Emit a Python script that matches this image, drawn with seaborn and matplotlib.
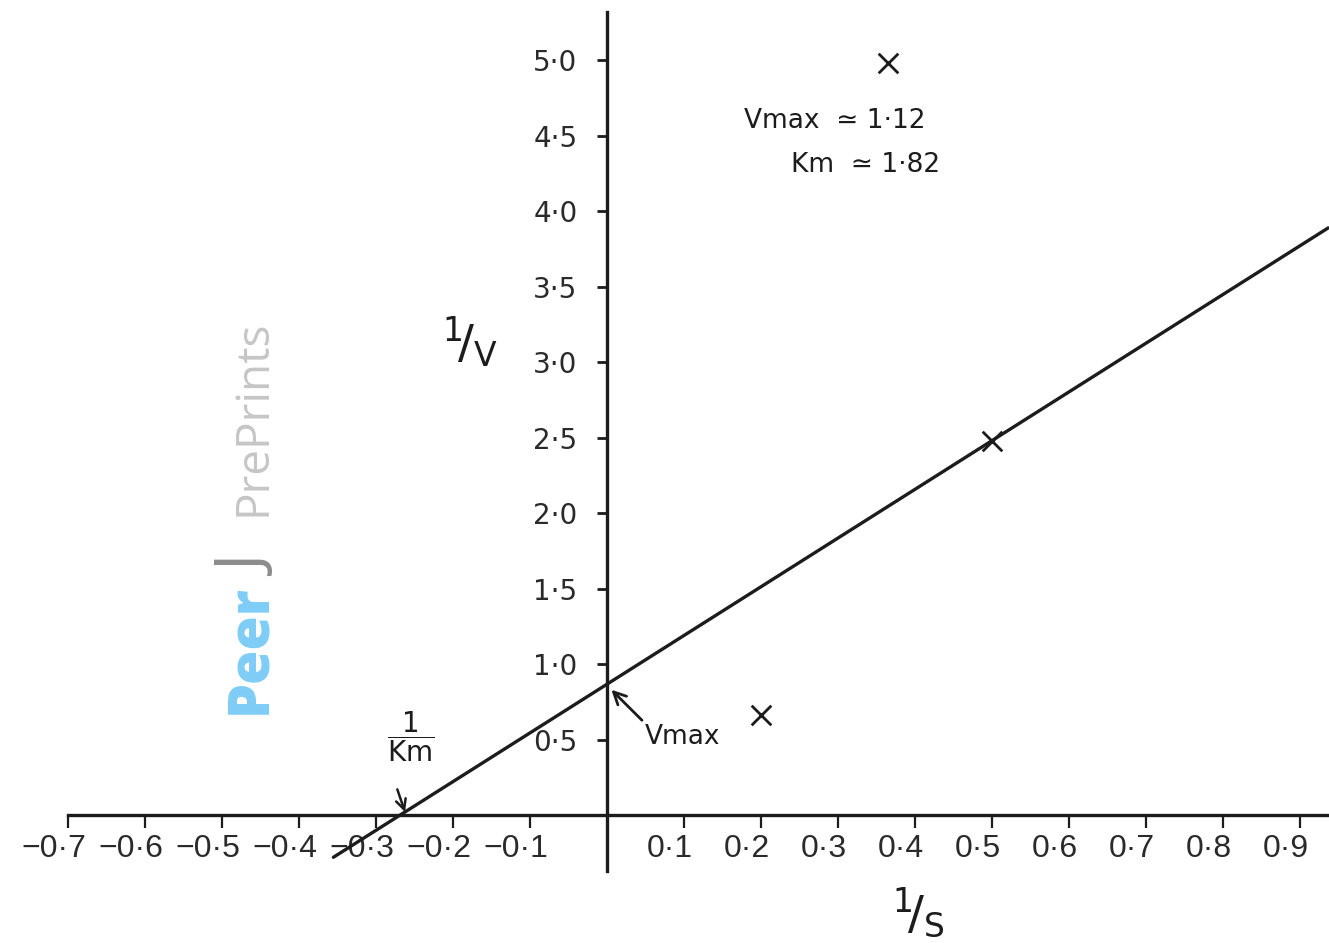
import matplotlib
matplotlib.use("Agg")
import matplotlib.pyplot as plt
import matplotlib.transforms as mtransforms
import numpy as np
import seaborn as sns

# Lineweaver-Burk data: reciprocal substrate concentration vs reciprocal rate
inv_s = [0.2, 0.365, 0.5]
inv_v = [0.66, 4.98, 2.48]

# hand-fitted straight line through the points
fit_x = [-0.355, 0.937]
fit_y = [-0.28, 3.89]

x_ticks = [-0.7, -0.6, -0.5, -0.4, -0.3, -0.2, -0.1, 0.1, 0.2, 0.3, 0.4, 0.5, 0.6, 0.7, 0.8, 0.9]
x_labels = ["−0·7", "−0·6", "−0·5", "−0·4", "−0·3", "−0·2", "−0·1",
            "0·1", "0·2", "0·3", "0·4", "0·5", "0·6", "0·7", "0·8", "0·9"]
y_ticks = [0.5, 1.0, 1.5, 2.0, 2.5, 3.0, 3.5, 4.0, 4.5, 5.0]
y_labels = ["0·5", "1·0", "1·5", "2·0", "2·5", "3·0", "3·5", "4·0", "4·5", "5·0"]

vmax_text = "Vmax  ≃ 1·12"
km_text = "Km  ≃ 1·82"

sns.set_theme(style="white")
plt.rcParams["font.family"] = ["DejaVu Sans"]
plt.rcParams["mathtext.fontset"] = "dejavusans"

ink = "#1c1c1c"
fig = plt.figure(figsize=(13.29, 9.43), dpi=100)
fig.patch.set_facecolor("white")
ax = fig.add_axes([0, 0, 1, 1])
ax.set_facecolor("white")

sns.lineplot(x=fit_x, y=fit_y, ax=ax, color=ink, linewidth=2.4)
sns.scatterplot(x=inv_s, y=inv_v, ax=ax, marker="x", s=200, color=ink,
                linewidth=2.0, zorder=5)

ax.set_xlim(-0.788, 0.938)
ax.set_ylim(-0.848, 5.40)

# axes crossing at the origin
for side in ["top", "right"]:
    ax.spines[side].set_visible(False)
ax.spines["left"].set_position(("data", 0))
ax.spines["bottom"].set_position(("data", 0))
ax.spines["left"].set_bounds(-0.37, 5.32)
ax.spines["bottom"].set_bounds(-0.70, 0.94)
for side in ["left", "bottom"]:
    ax.spines[side].set_color(ink)
    ax.spines[side].set_linewidth(2.4)

ax.set_xticks(x_ticks)
ax.set_xticklabels(x_labels, fontsize=23, color="#2a2a2a",
                   family=["Liberation Sans", "DejaVu Sans"])
ax.set_yticks(y_ticks)
ax.set_yticklabels(y_labels, fontsize=20, color="#2a2a2a")
ax.tick_params(axis="x", direction="out", length=9, width=1.6, color=ink, pad=5,
               bottom=True)
ax.tick_params(axis="y", direction="out", length=7, width=2.0, color=ink, pad=14,
               left=True)
shift = mtransforms.ScaledTranslation(-14 / 100, 0, fig.dpi_scale_trans)
for lab in ax.get_xticklabels():
    lab.set_transform(lab.get_transform() + shift)
ax.grid(False)

# axis titles
ax.text(-0.178, 3.13, r"$^{1}\!/_{\mathrm{V}}$", fontsize=34, color=ink,
        ha="center", va="center")
ax.text(0.405, -0.65, r"$^{1}\!/_{\mathrm{S}}$", fontsize=34, color=ink,
        ha="center", va="center")

# kinetic constants
ax.text(0.178, 4.6, vmax_text, fontsize=19, color=ink, ha="left", va="center")
ax.text(0.239, 4.31, km_text, fontsize=19, color=ink, ha="left", va="center")

# intercept annotations
ax.annotate("Vmax", xy=(0.006, 0.83), xytext=(0.05, 0.52), fontsize=19,
            color=ink, ha="left", va="center",
            arrowprops=dict(arrowstyle="->", color=ink, lw=2.0,
                            mutation_scale=22, shrinkA=0, shrinkB=0,
                            relpos=(0.0, 1.0)))
ax.annotate("", xy=(-0.262, 0.02), xytext=(-0.272, 0.17),
            arrowprops=dict(arrowstyle="->", color=ink, lw=1.8,
                            mutation_scale=18, shrinkA=0, shrinkB=0))
ax.text(-0.255, 0.52, r"$\dfrac{1}{\mathrm{Km}}$", fontsize=20, color=ink,
        ha="center", va="center")

# PeerJ PrePrints watermark
fig.text(265 / 1329, 1 - 714 / 943, "Peer", rotation=90, rotation_mode="anchor",
         ha="left", va="baseline", fontsize=40, fontweight="heavy",
         color="#7fcdf7", family=["Open Sans", "DejaVu Sans"])
fig.text(266 / 1329, 1 - 576 / 943, "J", rotation=90, rotation_mode="anchor",
         ha="left", va="baseline", fontsize=46, color="#8c8c8c",
         family=["Open Sans", "DejaVu Sans"])
fig.text(266 / 1329, 1 - 516 / 943, "PrePrints", rotation=90,
         rotation_mode="anchor", ha="left", va="baseline", fontsize=33,
         color="#c6c6c6", family=["Open Sans", "DejaVu Sans"])

fig.savefig("out.png", dpi=100, facecolor="white")
